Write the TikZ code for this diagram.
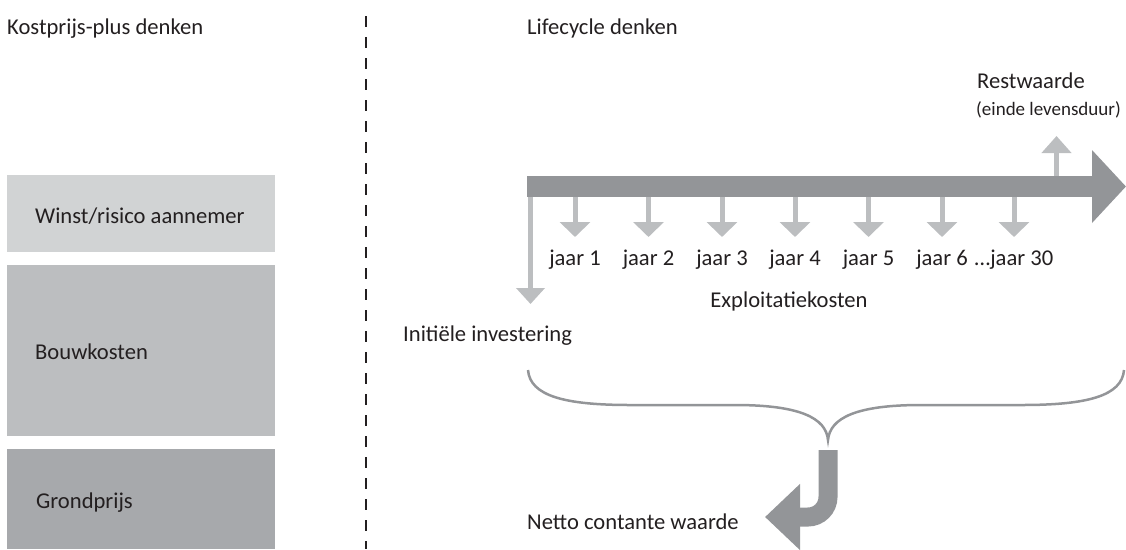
\documentclass[tikz,border=0pt]{standalone}
\usepackage{xcolor}
\usepackage{tikz}
\usepackage{fontspec}
\setmainfont{Carlito}
\usetikzlibrary{arrows.meta}

\definecolor{ink}{HTML}{231F20}
\definecolor{shaftgray}{HTML}{939598}
\definecolor{lightgray}{HTML}{BCBEC0}
\definecolor{boxA}{HTML}{D1D3D4}
\definecolor{boxB}{HTML}{BCBEC0}
\definecolor{boxC}{HTML}{A7A9AC}

\begin{document}
\begin{tikzpicture}[
  x=1pt, y=-1pt,
  every node/.style={inner sep=0pt, text=ink, font=\fontsize{22.6}{26}\selectfont},
  lbl/.style={anchor=base west},
  yearlbl/.style={anchor=base},
  small/.style={font=\fontsize{19}{22}\selectfont},
  costarrow/.style={draw=lightgray, line width=5pt, -{Triangle[length=15pt, width=30pt]}},
  timeline/.style={draw=shaftgray, line width=21pt, -{Triangle[length=34pt, width=71pt]}},
  bigarrow/.style={draw=shaftgray, line width=19pt, rounded corners=20pt, -{Triangle[length=35pt, width=64pt]}},
  brace/.style={draw=shaftgray, line width=2.5pt}
]
\useasboundingbox (0,0) rectangle (1126,549);

% left side: cost-plus
\node[lbl] (kostprijs) at (7,34) {Kostprijs-plus denken};
\fill[boxA] (7,175) rectangle (275,252);
\fill[boxB] (7,265) rectangle (275,436);
\fill[boxC] (7,449) rectangle (275,549);
\node[lbl] (winst) at (35,223) {Winst/risico aannemer};
\node[lbl] (bouw) at (35,359) {Bouwkosten};
\node[lbl] (grond) at (36,508) {Grondprijs};

% divider
\coordinate (divtop) at (366,16);
\coordinate (divbot) at (366,549);
\draw[ink, line width=2.7pt, dash pattern=on 11pt off 10pt] (divtop) -- (divbot);

% right side: lifecycle
\node[lbl] (lifecycle) at (527,34) {Lifecycle denken};

\coordinate (tstart) at (527,186.5);
\coordinate (tend) at (1126,186.5);
\draw[timeline] (tstart) -- (tend);

% residual value
\coordinate (restfoot) at (1056.5,176);
\coordinate (resttip) at (1056.5,136);
\draw[draw=lightgray, line width=5pt, -{Triangle[length=17pt, width=29pt]}] (restfoot) -- (resttip);
\node[lbl] (rest) at (977,88) {Restwaarde};
\node[lbl, small] (einde) at (976,115) {(einde levensduur)};

% initial investment
\coordinate (invfoot) at (530.5,197);
\coordinate (invtip) at (530.5,304);
\draw[draw=lightgray, line width=5pt, -{Triangle[length=16pt, width=28pt]}] (invfoot) -- (invtip);
\node[lbl] (invest) at (403,341) {Initiële investering};

% yearly costs
\foreach \x/\t [count=\i] in {575/jaar 1, 648.5/jaar 2, 722/jaar 3, 795/jaar 4, 868.5/jaar 5, 942/jaar 6, 1014/…jaar 30}{
  \coordinate (y\i foot) at (\x,197);
  \coordinate (y\i tip) at (\x,237);
  \draw[costarrow] (y\i foot) -- (y\i tip);
  \node[yearlbl] (jaar\i) at (\x,265) {\t};
}
\node[yearlbl] (exploit) at (789,307) {Exploitatiekosten};

% brace
\coordinate (bl) at (528,370);
\coordinate (bm) at (828,440);
\coordinate (br) at (1124,370);
\draw[brace] (bl) .. controls (530,396) and (565,405) .. (630,405) -- (735,405)
  .. controls (800,405) and (826,418) .. (bm)
  .. controls (830,418) and (856,405) .. (921,405) -- (1022,405)
  .. controls (1087,405) and (1122,396) .. (br);

% net present value
\coordinate (ncwtop) at (828,450);
\coordinate (ncwtip) at (765,517);
\draw[bigarrow] (ncwtop) |- (ncwtip);
\node[lbl] (ncw) at (527,529) {Netto contante waarde};
\end{tikzpicture}
\end{document}
